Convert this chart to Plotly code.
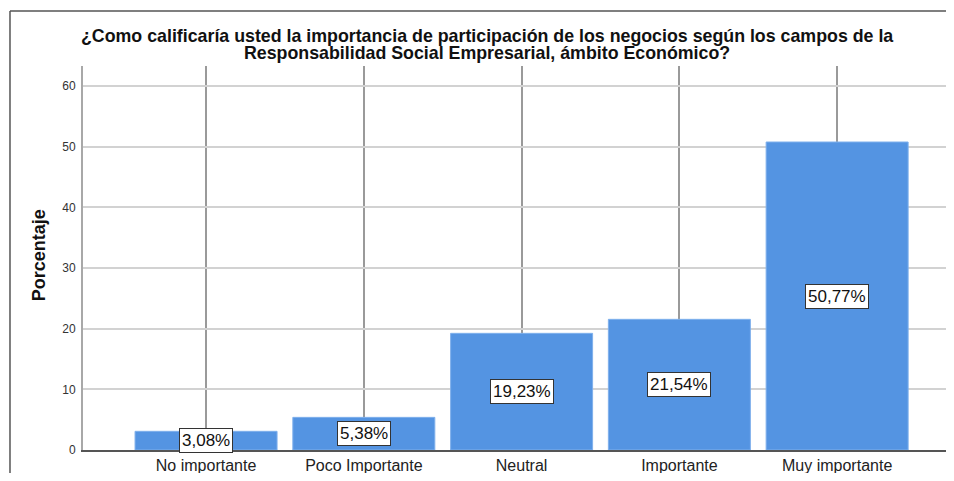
import plotly.graph_objects as go

categories = ["No importante", "Poco Importante", "Neutral", "Importante", "Muy importante"]
percentages = [3.08, 5.38, 19.23, 21.54, 50.77]
labels = ["3,08%", "5,38%", "19,23%", "21,54%", "50,77%"]
y_ticks = [0, 10, 20, 30, 40, 50, 60]

title_line1 = "¿Como calificaría usted la importancia de participación de los negocios según los campos de la"
title_line2 = "Responsabilidad Social Empresarial, ámbito Económico?"
y_title = "Porcentaje"

FONT = "Liberation Sans, Arial, sans-serif"

fig = go.Figure()
fig.add_trace(go.Bar(
    x=categories,
    y=percentages,
    width=0.9,
    marker=dict(color="#5494e2", line=dict(color="#7fb0ec", width=1)),
    hoverinfo="skip",
))

for c, v, t in zip(categories, percentages, labels):
    fig.add_annotation(
        x=c, y=v / 2, text=t, showarrow=False,
        font=dict(family=FONT, size=17, color="#111"),
        bgcolor="white", bordercolor="#333", borderwidth=1, borderpad=2,
    )

fig.add_annotation(x=0.468, y=1.0775, xref="paper", yref="paper", xanchor="center", yanchor="middle",
                   text="<b>" + title_line1 + "</b>",
                   showarrow=False, font=dict(family=FONT, size=17.8, color="#111"))
fig.add_annotation(x=0.468, y=1.0335, xref="paper", yref="paper", xanchor="center", yanchor="middle",
                   text="<b>" + title_line2 + "</b>",
                   showarrow=False, font=dict(family=FONT, size=17.8, color="#111"))
fig.add_annotation(x=-0.0505, y=0.508, xref="paper", yref="paper", xanchor="center", yanchor="middle",
                   text="<b>" + y_title + "</b>",
                   textangle=-90, showarrow=False, font=dict(family=FONT, size=18, color="#111"))

# outer frame
fig.add_shape(type="line", xref="paper", yref="paper", x0=-0.0846, x1=-0.0846, y0=-0.2, y1=1.143,
              line=dict(color="#555", width=1.5))
fig.add_shape(type="line", xref="paper", yref="paper", x0=-0.0846, x1=1.2, y0=1.143, y1=1.143,
              line=dict(color="#555", width=1.5))

fig.update_layout(
    width=938, height=465,
    margin=dict(l=75, r=0, t=58, b=23),
    paper_bgcolor="white", plot_bgcolor="white",
    showlegend=False,
    font=dict(family=FONT, color="#222"),
    xaxis=dict(
        range=[-0.78, 4.69],
        showgrid=True, gridcolor="#9a9a9a", gridwidth=1.5,
        showline=True, linecolor="#555", linewidth=1.5,
        tickfont=dict(family=FONT, size=16, color="#222"),
        ticks="", fixedrange=True,
    ),
    yaxis=dict(
        range=[0, 63.3],
        tickvals=y_ticks,
        showgrid=True, gridcolor="#d2d2d2", gridwidth=1.5,
        zeroline=False,
        showline=True, linecolor="#a8a8a8", linewidth=2,
        tickfont=dict(family=FONT, size=12, color="#333"),
        ticklabelstandoff=3,
        ticks="",
    ),
)

fig.write_html("out.html")
